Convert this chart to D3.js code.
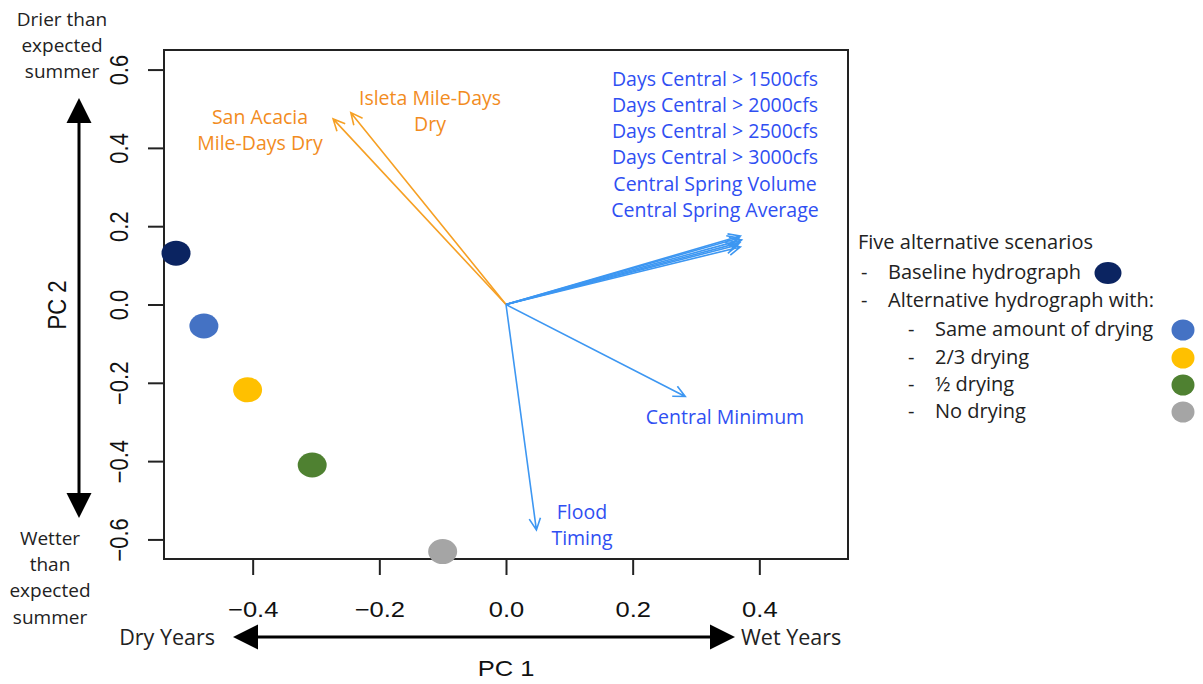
<!DOCTYPE html>
<html>
<head>
<meta charset="utf-8">
<script src="https://cdn.jsdelivr.net/npm/d3@7"></script>
<style>
  body { margin: 0; background: #fff; }
  text { font-family: "Open Sans", sans-serif; }
  .r { font-family: "Liberation Sans", Arial, sans-serif; }
</style>
</head>
<body>
<svg id="chart" width="1203" height="684"></svg>
<script>
// scenario scores (PC1, PC2)
const scenarios = ["Baseline hydrograph", "Same amount of drying", "2/3 drying", "½ drying", "No drying"];
const pc1 = [-0.521, -0.477, -0.408, -0.306, -0.100];
const pc2 = [0.131, -0.055, -0.218, -0.410, -0.631];

// variable loadings
const loadingNames = ["San Acacia Mile-Days Dry", "Isleta Mile-Days Dry",
  "Days Central > 1500cfs", "Days Central > 2000cfs", "Days Central > 2500cfs",
  "Days Central > 3000cfs", "Central Spring Volume", "Central Spring Average",
  "Central Minimum", "Flood Timing"];
const loadX = [-0.273, -0.245, 0.370, 0.368, 0.372, 0.369, 0.366, 0.370, 0.283, 0.048];
const loadY = [0.474, 0.490, 0.175, 0.170, 0.165, 0.158, 0.152, 0.147, -0.235, -0.576];
const loadGroup = ["dry", "dry", "flow", "flow", "flow", "flow", "flow", "flow", "flow", "flow"];

const xTicks = [-0.4, -0.2, 0.0, 0.2, 0.4];
const yTicks = [-0.6, -0.4, -0.2, 0.0, 0.2, 0.4, 0.6];

const pointColors = ["#0b2461", "#4472c4", "#ffc000", "#4f8131", "#a5a5a5"];
const arrowColor = {dry: "#f6a024", flow: "#3d97f2"};
const textColor = {dry: "#f28c1e", flow: "#2f4ff2"};
const stretch = 1.16; // the R plot was stretched sideways in the original figure

const svg = d3.select("#chart");

const x = d3.scaleLinear().domain([-0.54, 0.54]).range([164, 848]);
const y = d3.scaleLinear().domain([-0.65, 0.65]).range([559, 50]);

// axes
const fmt = d => (d < 0 ? "\u2212" : "") + Math.abs(d).toFixed(1);

const xAxis = svg.append("g")
    .attr("transform", `translate(0,${y.range()[0]})`)
    .call(d3.axisBottom(x).tickValues(xTicks).tickSize(16).tickSizeOuter(0).tickFormat(fmt));
xAxis.select(".domain").remove();
xAxis.selectAll("line").attr("stroke", "#222").attr("stroke-width", 2);
xAxis.selectAll("text")
    .attr("class", "r")
    .attr("font-size", 22)
    .attr("fill", "#111")
    .attr("y", 0).attr("dy", 0)
    .attr("transform", `translate(0,58) scale(${stretch},1)`);

const yAxis = svg.append("g")
    .attr("transform", `translate(${x.range()[0]},0)`)
    .call(d3.axisLeft(y).tickValues(yTicks).tickSize(16).tickSizeOuter(0).tickFormat(fmt));
yAxis.select(".domain").remove();
yAxis.selectAll("line").attr("stroke", "#222").attr("stroke-width", 2);
yAxis.selectAll("text")
    .attr("class", "r")
    .attr("font-size", 22)
    .attr("fill", "#111")
    .attr("x", 0).attr("y", 0).attr("dy", 0)
    .attr("text-anchor", "middle")
    .attr("transform", `translate(-36,0) scale(${stretch},1) rotate(-90)`);

// plot box
svg.append("rect")
    .attr("x", x.range()[0])
    .attr("y", y.range()[1])
    .attr("width", x.range()[1] - x.range()[0])
    .attr("height", y.range()[0] - y.range()[1])
    .attr("fill", "none")
    .attr("stroke", "#222")
    .attr("stroke-width", 2);

// loading arrows
const arrows = svg.append("g");
loadX.forEach((lx, i) => {
    const x0 = x(0), y0 = y(0), x1 = x(lx), y1 = y(loadY[i]);
    const ang = Math.atan2(y1 - y0, x1 - x0);
    const head = 13, spread = Math.PI / 7;
    const col = arrowColor[loadGroup[i]];
    const p = d3.path();
    p.moveTo(x0, y0); p.lineTo(x1, y1);
    p.moveTo(x1 - head * Math.cos(ang - spread), y1 - head * Math.sin(ang - spread));
    p.lineTo(x1, y1);
    p.lineTo(x1 - head * Math.cos(ang + spread), y1 - head * Math.sin(ang + spread));
    arrows.append("path")
        .attr("d", p.toString())
        .attr("fill", "none")
        .attr("stroke", col)
        .attr("stroke-width", 1.6);
});

// arrow labels
function label(lines, cx, cy, color, size, gap) {
    const t = svg.append("text")
        .attr("text-anchor", "middle")
        .attr("font-size", size)
        .attr("fill", color);
    lines.forEach((s, k) => {
        t.append("tspan")
            .attr("x", cx)
            .attr("y", cy + k * gap + size * 0.35)
            .text(s);
    });
}
label(["San Acacia", "Mile-Days Dry"], 260, 117, textColor.dry, 19.5, 26);
label(["Isleta Mile-Days", "Dry"], 430, 98, textColor.dry, 19.5, 26);
label(loadingNames.slice(2, 8), 715, 79, textColor.flow, 19.5, 26.2);
label(["Central Minimum"], 725, 417, textColor.flow, 19.5, 26);
label(["Flood", "Timing"], 582, 512, textColor.flow, 19.5, 26);

// scenario points
svg.append("g").selectAll("ellipse")
    .data(scenarios)
    .join("ellipse")
    .attr("cx", (d, i) => x(pc1[i]))
    .attr("cy", (d, i) => y(pc2[i]))
    .attr("rx", 14.5)
    .attr("ry", 12.5)
    .attr("fill", (d, i) => pointColors[i]);

// axis titles
svg.append("text").attr("class", "r")
    .attr("font-size", 22).attr("text-anchor", "middle").attr("fill", "#111")
    .attr("transform", `translate(506,676) scale(${stretch},1)`)
    .text("PC 1");
svg.append("text").attr("class", "r")
    .attr("font-size", 22).attr("text-anchor", "middle").attr("fill", "#111")
    .attr("transform", `translate(66,305) scale(${stretch},1) rotate(-90)`)
    .text("PC 2");

// direction arrows
function bigArrow(x1, y1, x2, y2) {
    const ang = Math.atan2(y2 - y1, x2 - x1);
    const len = 25, half = 12.5;
    [[x1, y1, ang + Math.PI], [x2, y2, ang]].forEach(([tx, ty, a]) => {
        const bx = tx - len * Math.cos(a), by = ty - len * Math.sin(a);
        svg.append("path")
            .attr("d", `M${tx},${ty}L${bx - half * Math.sin(a)},${by + half * Math.cos(a)}L${bx + half * Math.sin(a)},${by - half * Math.cos(a)}Z`)
            .attr("fill", "#000");
    });
    svg.append("line")
        .attr("x1", x1 + len * Math.cos(ang)).attr("y1", y1 + len * Math.sin(ang))
        .attr("x2", x2 - len * Math.cos(ang)).attr("y2", y2 - len * Math.sin(ang))
        .attr("stroke", "#000").attr("stroke-width", 3);
}
bigArrow(79, 98, 79, 518);
bigArrow(233, 637, 735, 637);

label(["Drier than", "expected", "summer"], 62, 19, "#222", 19, 26);
label(["Wetter", "than", "expected", "summer"], 50, 538, "#222", 19, 26.3);

svg.append("text").attr("font-size", 21.5).attr("fill", "#222")
    .attr("text-anchor", "end").attr("x", 215).attr("y", 637 + 21.5 * 0.35)
    .text("Dry Years");
svg.append("text").attr("font-size", 21.5).attr("fill", "#222")
    .attr("x", 741).attr("y", 637 + 21.5 * 0.35)
    .text("Wet Years");

// legend
const legend = svg.append("g").attr("font-size", 20).attr("fill", "#222");
const legendRows = [
    {dash: null, text: "Five alternative scenarios", tx: 858},
    {dash: 861, text: "- ", tx: 888},
    {dash: 861, text: "", tx: 888},
    {dash: 908, text: "", tx: 935},
    {dash: 908, text: "", tx: 935},
    {dash: 908, text: "", tx: 935},
    {dash: 908, text: "", tx: 935}
];
const legendText = ["Five alternative scenarios", scenarios[0], "Alternative hydrograph with:"]
    .concat(scenarios.slice(1));
const legendY = [242, 272, 300, 329, 357, 384, 411];
legendText.forEach((s, i) => {
    const row = legendRows[i];
    if (row.dash !== null) {
        legend.append("text").attr("x", row.dash).attr("y", legendY[i] + 7).text("-");
    }
    legend.append("text").attr("x", row.tx).attr("y", legendY[i] + 7).text(s);
});
// legend swatches: scenario i sits on legend row (i === 0 ? 1 : i + 2)
const swatchX = [1108, 1183, 1183, 1183, 1183];
legend.selectAll("ellipse")
    .data(scenarios)
    .join("ellipse")
    .attr("cx", (d, i) => swatchX[i])
    .attr("cy", (d, i) => legendY[i === 0 ? 1 : i + 2] + 1)
    .attr("rx", (d, i) => i === 0 ? 13.5 : 11.5)
    .attr("ry", (d, i) => i === 0 ? 11 : 10.5)
    .attr("fill", (d, i) => pointColors[i]);
</script>
</body>
</html>
